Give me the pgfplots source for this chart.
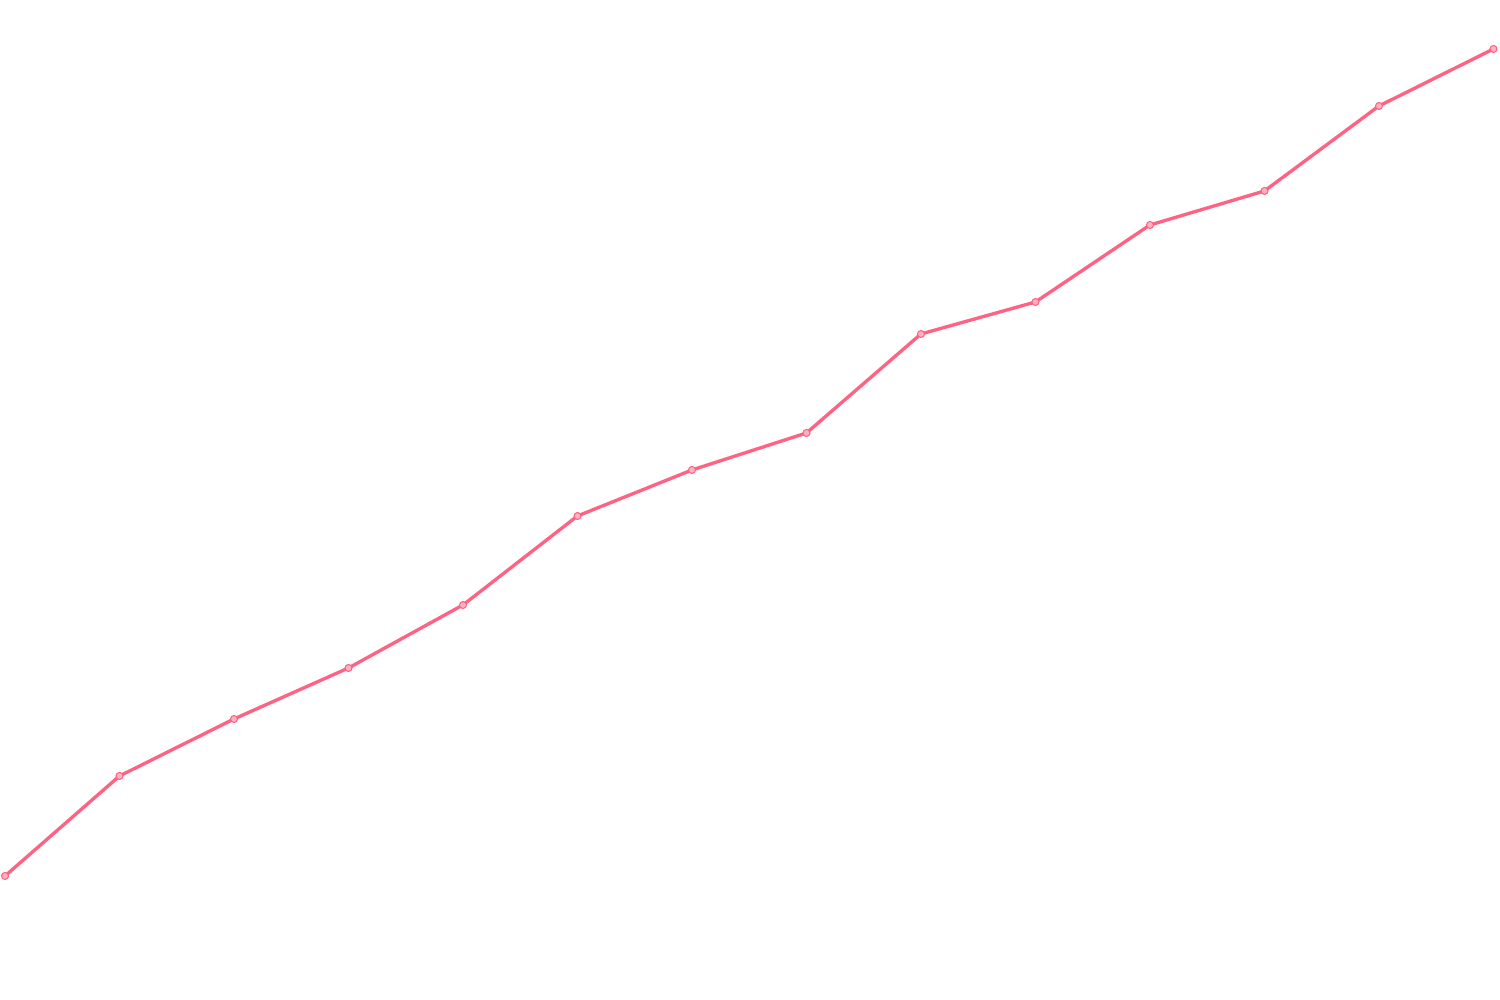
\documentclass[border=0pt]{standalone}
\usepackage{pgfplots}
\pgfplotsset{compat=1.18}
\definecolor{linered}{RGB}{255,99,132}
\begin{document}
\begin{tikzpicture}
\begin{axis}[
    scale only axis,
    width=15cm, height=10cm,
    hide axis,
    xmin=-0.0437, xmax=13.057,
    ymin=0, ymax=1000,
    clip=false,
]
\addplot[color=linered, line width=0.95pt, mark=*, mark size=1.0pt,
    mark options={draw=linered, fill=linered!50, line width=0.3pt}]
coordinates {
    (0,124) (1,224) (2,281) (3,332) (4,395) (5,484) (6,530)
    (7,567) (8,666) (9,698) (10,775) (11,809) (12,894) (13,951)
};
\path (rel axis cs:0,0) rectangle (rel axis cs:1,1);
\end{axis}
\end{tikzpicture}
\end{document}
